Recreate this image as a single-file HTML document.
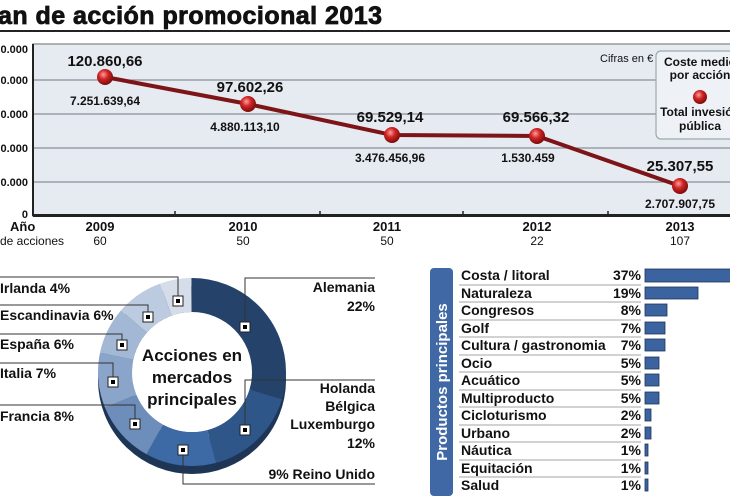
<!DOCTYPE html>
<html><head><meta charset="utf-8"><style>
body{margin:0;background:#fff;}
svg{display:block}
text{font-family:"Liberation Sans Narrow","Liberation Sans",sans-serif;font-weight:bold;fill:#111}
.w{font-family:"Liberation Sans",sans-serif}
</style></head><body>
<svg width="730" height="500" viewBox="0 0 730 500">
<defs>
<radialGradient id="ball" cx="40%" cy="35%" r="65%"><stop offset="0" stop-color="#f7a0a0"/><stop offset="0.45" stop-color="#d22424"/><stop offset="1" stop-color="#7a0c0c"/></radialGradient>
</defs>
<text x="-2" y="24" class="w" font-size="25" stroke="#111" stroke-width="0.8" textLength="384" lengthAdjust="spacing">an de acción promocional 2013</text>
<rect x="0" y="30" width="730" height="2" fill="#222"/>
<rect x="33" y="44" width="700" height="172" fill="#e6eaf1" stroke="#999" stroke-width="1.5"/>
<g stroke="#8a8f99" stroke-width="1.2">
<line x1="33" y1="80" x2="730" y2="80"/><line x1="33" y1="114" x2="730" y2="114"/><line x1="33" y1="148" x2="730" y2="148"/><line x1="33" y1="182" x2="730" y2="182"/>
</g>
<rect x="33" y="214" width="700" height="3" fill="#222"/>
<g stroke="#222" stroke-width="1.5"><line x1="175" y1="211" x2="175" y2="214"/><line x1="320" y1="211" x2="320" y2="214"/><line x1="463" y1="211" x2="463" y2="214"/><line x1="608" y1="211" x2="608" y2="214"/></g>
<line x1="33" y1="44" x2="33" y2="216" stroke="#222" stroke-width="2"/>
<g font-size="11" class="w" text-anchor="end">
<text x="28" y="53" class="w">0.000</text><text x="28" y="84" class="w">0.000</text><text x="28" y="118" class="w">0.000</text><text x="28" y="152" class="w">0.000</text><text x="28" y="186" class="w">0.000</text><text x="28" y="218" class="w">0</text>
</g>
<polyline points="105,77 248,104 392,135 537,136 680,186" fill="none" stroke="#7d1518" stroke-width="4"/>
<g fill="url(#ball)"><circle cx="105" cy="77" r="8"/><circle cx="248" cy="104" r="8"/><circle cx="392" cy="135" r="8"/><circle cx="537" cy="136" r="8"/><circle cx="680" cy="186" r="8"/></g>
<g class="w" text-anchor="middle">
<text x="105" y="66" font-size="15" class="w">120.860,66</text><text x="105" y="105" font-size="12">7.251.639,64</text>
<text x="250" y="92" font-size="15" class="w">97.602,26</text><text x="245" y="131" font-size="12">4.880.113,10</text>
<text x="390" y="122" font-size="15" class="w">69.529,14</text><text x="390" y="162" font-size="12">3.476.456,96</text>
<text x="536" y="122" font-size="15" class="w">69.566,32</text><text x="528" y="162" font-size="12">1.530.459</text>
<text x="680" y="171" font-size="15" class="w">25.307,55</text><text x="680" y="208" font-size="12">2.707.907,75</text>
</g>
<text x="600" y="62" font-size="11" style="font-weight:normal" fill="#333">Cifras en €</text>
<rect x="656" y="51" width="80" height="88" rx="5" fill="#eef1f6" stroke="#9aa" stroke-width="1.2"/>
<g text-anchor="middle"><text x="700" y="66" font-size="12" class="w">Coste medio</text><text x="700" y="79" font-size="12" class="w">por acción</text>
<circle cx="700" cy="97" r="7" fill="url(#ball)"/>
<text x="700" y="116" font-size="12">Total invesión</text><text x="700" y="130" font-size="12">pública</text></g>
<text x="10" y="231" font-size="13" class="w">Año</text>
<text x="0" y="245" font-size="12" style="font-weight:normal" fill="#333">de acciones</text>
<g text-anchor="middle" font-size="13">
<text x="100" y="231" class="w">2009</text><text x="243" y="231" class="w">2010</text><text x="387" y="231" class="w">2011</text><text x="537" y="231" class="w">2012</text><text x="680" y="231" class="w">2013</text>
</g>
<g text-anchor="middle" font-size="12">
<text x="100" y="245" style="font-weight:normal">60</text><text x="243" y="245" style="font-weight:normal">50</text><text x="387" y="245" style="font-weight:normal">50</text><text x="537" y="245" style="font-weight:normal">22</text><text x="680" y="245" style="font-weight:normal">107</text>
</g>
<circle cx="192" cy="380" r="77" fill="none" stroke="#1e3556" stroke-width="34"/>
<g transform="rotate(-90 192 372)" fill="none" stroke-width="34">
<circle cx="192" cy="372" r="77" pathLength="74" stroke="#24426a" stroke-dasharray="22 52" stroke-dashoffset="0"/>
<circle cx="192" cy="372" r="77" pathLength="74" stroke="#2f5689" stroke-dasharray="12 62" stroke-dashoffset="-22"/>
<circle cx="192" cy="372" r="77" pathLength="74" stroke="#3d69a5" stroke-dasharray="9 65" stroke-dashoffset="-34"/>
<circle cx="192" cy="372" r="77" pathLength="74" stroke="#6d8dba" stroke-dasharray="8 66" stroke-dashoffset="-43"/>
<circle cx="192" cy="372" r="77" pathLength="74" stroke="#8ba5ca" stroke-dasharray="7 67" stroke-dashoffset="-51"/>
<circle cx="192" cy="372" r="77" pathLength="74" stroke="#a3b8d5" stroke-dasharray="6 68" stroke-dashoffset="-58"/>
<circle cx="192" cy="372" r="77" pathLength="74" stroke="#bccbe0" stroke-dasharray="6 68" stroke-dashoffset="-64"/>
<circle cx="192" cy="372" r="77" pathLength="74" stroke="#d5dde9" stroke-dasharray="4 70" stroke-dashoffset="-70"/>
</g>
<circle cx="192" cy="372" r="60" fill="#fff"/>
<g text-anchor="middle" font-size="17"><text x="192" y="361">Acciones en</text><text x="192" y="383">mercados</text><text x="192" y="405">principales</text></g>
<g fill="none" stroke="#333" stroke-width="1">
<polyline points="0,277 178,277 178,301"/><polyline points="0,305 148,305 148,317"/><polyline points="0,334 122,334 122,345"/><polyline points="0,363 113,363 113,382"/><polyline points="0,405 135,405 135,424"/>
<polyline points="183,450 183,484 375,484"/><polyline points="245,327 245,278 375,278"/><polyline points="245,430 245,380 375,380"/>
</g>
<g fill="#fff" stroke="#222" stroke-width="1">
<rect x="173" y="296" width="10" height="10"/><rect x="143" y="312" width="10" height="10"/><rect x="117" y="340" width="10" height="10"/><rect x="108" y="377" width="10" height="10"/><rect x="130" y="419" width="10" height="10"/><rect x="178" y="445" width="10" height="10"/><rect x="240" y="322" width="10" height="10"/><rect x="240" y="425" width="10" height="10"/>
</g>
<g fill="#000"><rect x="176" y="299" width="4" height="4"/><rect x="146" y="315" width="4" height="4"/><rect x="120" y="343" width="4" height="4"/><rect x="111" y="380" width="4" height="4"/><rect x="133" y="422" width="4" height="4"/><rect x="181" y="448" width="4" height="4"/><rect x="243" y="325" width="4" height="4"/><rect x="243" y="428" width="4" height="4"/></g>
<g font-size="14">
<text x="0" y="293">Irlanda 4%</text><text x="0" y="320">Escandinavia 6%</text><text x="0" y="349">España 6%</text><text x="0" y="378">Italia  7%</text><text x="0" y="421">Francia  8%</text>
</g>
<g font-size="14" text-anchor="end">
<text x="375" y="292">Alemania</text><text x="375" y="311">22%</text>
<text x="375" y="393">Holanda</text><text x="375" y="411">Bélgica</text><text x="375" y="429">Luxemburgo</text><text x="375" y="448">12%</text>
<text x="375" y="479">9% Reino Unido</text>
</g>
<rect x="430" y="268" width="23" height="228" rx="4" fill="#3f68a4"/>
<text transform="translate(447 382) rotate(-90)" text-anchor="middle" font-size="15" style="fill:#fff">Productos principales</text>
<g font-size="14">
<text x="461" y="280">Costa / litoral</text><text x="461" y="298">Naturaleza</text><text x="461" y="315">Congresos</text><text x="461" y="333">Golf</text><text x="461" y="350">Cultura / gastronomia</text><text x="461" y="368">Ocio</text><text x="461" y="385">Acuático</text><text x="461" y="403">Multiproducto</text><text x="461" y="420">Cicloturismo</text><text x="461" y="438">Urbano</text><text x="461" y="455">Náutica</text><text x="461" y="473">Equitación</text><text x="461" y="490">Salud</text>
</g>
<g font-size="14" text-anchor="end">
<text x="641" y="280">37%</text><text x="641" y="298">19%</text><text x="641" y="315">8%</text><text x="641" y="333">7%</text><text x="641" y="350">7%</text><text x="641" y="368">5%</text><text x="641" y="385">5%</text><text x="641" y="403">5%</text><text x="641" y="420">2%</text><text x="641" y="438">2%</text><text x="641" y="455">1%</text><text x="641" y="473">1%</text><text x="641" y="490">1%</text>
</g>
<g stroke="#888" stroke-width="0.8">
<line x1="459" y1="285" x2="641" y2="285"/><line x1="459" y1="302" x2="641" y2="302"/><line x1="459" y1="320" x2="641" y2="320"/><line x1="459" y1="337" x2="641" y2="337"/><line x1="459" y1="355" x2="641" y2="355"/><line x1="459" y1="372" x2="641" y2="372"/><line x1="459" y1="390" x2="641" y2="390"/><line x1="459" y1="407" x2="641" y2="407"/><line x1="459" y1="425" x2="641" y2="425"/><line x1="459" y1="442" x2="641" y2="442"/><line x1="459" y1="460" x2="641" y2="460"/><line x1="459" y1="477" x2="641" y2="477"/>
</g>
<g fill="#3a63a0" stroke="#1d3558" stroke-width="0.8">
<rect x="645" y="269" width="88" height="13"/><rect x="645" y="287" width="53" height="12"/><rect x="645" y="304" width="22" height="12"/><rect x="645" y="322" width="20" height="12"/><rect x="645" y="339" width="20" height="12"/><rect x="645" y="357" width="14" height="12"/><rect x="645" y="374" width="14" height="12"/><rect x="645" y="392" width="14" height="12"/><rect x="645" y="409" width="6" height="12"/><rect x="645" y="427" width="6" height="12"/><rect x="645" y="444" width="3" height="12"/><rect x="645" y="462" width="3" height="12"/><rect x="645" y="479" width="3" height="12"/>
</g>
</svg>
</body></html>
